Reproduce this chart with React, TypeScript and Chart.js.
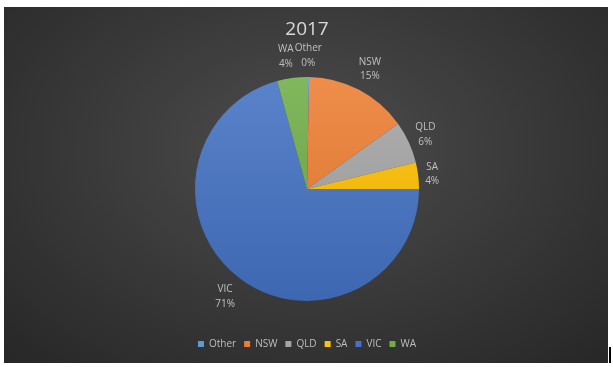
import React, { useEffect, useRef } from "react";
import { Chart, registerables } from "chart.js";

Chart.register(...registerables);

const title = "2017";
const categories = ["Other", "NSW", "QLD", "SA", "VIC", "WA"];
const values = [0.3, 14.8, 6.1, 3.8, 70.7, 4.3];
const colors = ["#5b9bd5", "#ed7d31", "#a5a5a5", "#ffc000", "#4472c4", "#70ad47"];

const PIE_RADIUS = 112;
const FONT = "'Open Sans', 'DejaVu Sans', sans-serif";

function shade(hex: string, amt: number): string {
  const n = parseInt(hex.slice(1), 16);
  const r = n >> 16, g = (n >> 8) & 255, b = n & 255;
  const f = (c: number) => (amt >= 0 ? Math.round(c + (255 - c) * amt) : Math.round(c * (1 + amt)));
  return `rgb(${f(r)},${f(g)},${f(b)})`;
}

const labelPlugin = {
  id: "outsideLabels",
  afterDatasetsDraw(chart: any) {
    const ctx = chart.ctx as CanvasRenderingContext2D;
    const meta = chart.getDatasetMeta(0);
    const total = values.reduce((a, b) => a + b, 0);
    ctx.save();
    ctx.font = `10px ${FONT}`;
    ctx.fillStyle = "#c0c0c0";
    ctx.textAlign = "center";
    ctx.textBaseline = "middle";
    const lh = 14.4;
    const gap = 7;
    const placed: { cx: number; cy: number; w: number; h: number }[] = [];
    meta.data.forEach((arc: any, i: number) => {
      const { x, y, startAngle, endAngle, outerRadius } = arc.getProps(
        ["x", "y", "startAngle", "endAngle", "outerRadius"],
        true
      );
      const mid = (startAngle + endAngle) / 2;
      const ux = Math.cos(mid);
      const uy = Math.sin(mid);
      const l1 = categories[i];
      const l2 = Math.round((values[i] / total) * 100) + "%";
      const w = Math.max(ctx.measureText(l1).width, ctx.measureText(l2).width);
      const h = lh * 2;
      const ext = Math.min(
        Math.abs(ux) > 1e-6 ? w / 2 / Math.abs(ux) : Infinity,
        Math.abs(uy) > 1e-6 ? h / 2 / Math.abs(uy) : Infinity
      );
      const d = outerRadius + gap + ext;
      let cx = x + ux * d;
      const cy = y + uy * d;
      for (const p of placed) {
        if (Math.abs(cy - p.cy) < (h + p.h) / 2 && Math.abs(cx - p.cx) < (w + p.w) / 2 + 1) {
          if (cx < p.cx) cx = p.cx - (w + p.w) / 2 - 1;
          else cx = p.cx + (w + p.w) / 2 + 1;
        }
      }
      placed.push({ cx, cy, w, h });
      ctx.fillText(l1, cx, cy - lh / 2);
      ctx.fillText(l2, cx, cy + lh / 2);
    });
    ctx.restore();
  },
};

export default function App() {
  const ref = useRef<HTMLCanvasElement | null>(null);

  useEffect(() => {
    if (!ref.current) return;
    const chart = new Chart(ref.current, {
      type: "pie",
      data: {
        labels: categories,
        datasets: [
          {
            data: values,
            radius: PIE_RADIUS,
            borderWidth: 0,
            backgroundColor: (c: any) => {
              const col = colors[c.dataIndex % colors.length];
              const area = c.chart.chartArea;
              if (!area || c.type !== "data") return col;
              const cy = (area.top + area.bottom) / 2;
              const g = c.chart.ctx.createLinearGradient(0, cy - PIE_RADIUS, 0, cy + PIE_RADIUS);
              g.addColorStop(0, shade(col, 0.12));
              g.addColorStop(1, shade(col, -0.1));
              return g;
            },
          } as any,
        ],
      },
      options: {
        responsive: false,
        animation: false,
        layout: { padding: { left: 2, right: 0, top: 0, bottom: 4 } },
        plugins: {
          tooltip: { enabled: false },
          title: {
            display: true,
            text: title,
            color: "#d9d9d9",
            font: { family: FONT, size: 19, weight: "normal" as any },
            padding: { top: 11, bottom: 6 },
          },
          legend: {
            display: true,
            position: "bottom",
            labels: {
              boxWidth: 6,
              boxHeight: 6,
              padding: 8,
              color: "#bfbfbf",
              font: { family: FONT, size: 10 },
              generateLabels: () =>
                categories.map((t, i) => ({
                  text: t,
                  fillStyle: colors[i],
                  strokeStyle: colors[i],
                  lineWidth: 0,
                  fontColor: "#bfbfbf",
                  hidden: false,
                  index: i,
                })),
            },
          },
        },
      },
      plugins: [labelPlugin],
    });
    return () => chart.destroy();
  }, []);

  return (
    <div style={{ position: "absolute", left: 0, top: 0, width: 613, height: 367, background: "#ffffff" }}>
      <div
        style={{
          position: "absolute",
          left: 4,
          top: 7,
          width: 604,
          height: 356,
          background:
            "radial-gradient(70% 80% at 50% 40%, #4d4d4d 0%, #3c3c3c 45%, #282828 100%)",
        }}
      >
        <canvas ref={ref} width={604} height={356} style={{ display: "block" }} />
      </div>
      <div style={{ position: "absolute", left: 609, top: 347, width: 2, height: 16, background: "#000" }} />
    </div>
  );
}
